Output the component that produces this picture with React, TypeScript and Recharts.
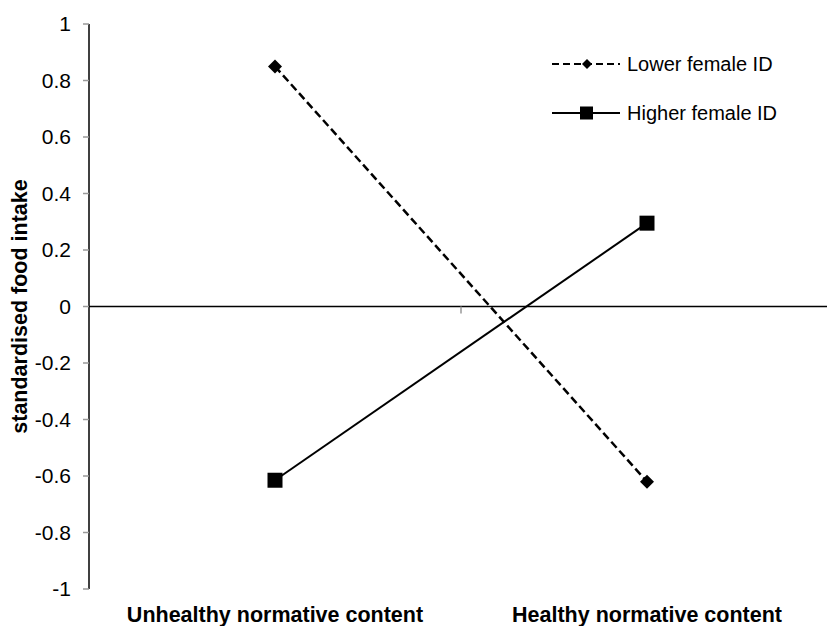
import React from 'react';
import { LineChart, Line, XAxis, YAxis, ReferenceLine } from 'recharts';

const categories = ['Unhealthy normative content', 'Healthy normative content'];
const lowerFemaleID = [0.85, -0.62];
const higherFemaleID = [-0.615, 0.295];
const yTicks = [-1, -0.8, -0.6, -0.4, -0.2, 0, 0.2, 0.4, 0.6, 0.8, 1];
const seriesNames = ['Lower female ID', 'Higher female ID'];
const yTitle = 'standardised food intake';

const data = categories.map((c, i) => ({
  category: c,
  lower: lowerFemaleID[i],
  higher: higherFemaleID[i],
}));

const FONT = '"Liberation Sans", Arial, sans-serif';

const Diamond = (props: any) => {
  const { cx, cy, index } = props;
  if (cx == null || cy == null) return <g key={index} />;
  const r = 7;
  return (
    <path key={index} d={`M${cx},${cy - r}L${cx + r},${cy}L${cx},${cy + r}L${cx - r},${cy}Z`} fill="#000" />
  );
};

const Square = (props: any) => {
  const { cx, cy, index } = props;
  if (cx == null || cy == null) return <g key={index} />;
  const s = 15;
  return <rect key={index} x={cx - s / 2} y={cy - s / 2} width={s} height={s} fill="#000" />;
};

const LegendBox = () => (
  <div style={{ position: 'absolute', left: 552, top: 39.5, width: 270, fontFamily: FONT, fontSize: 20, color: '#000' }}>
    {seriesNames.map((name, i) => {
      const dashed = i === 0;
      return (
        <div key={i} style={{ display: 'flex', alignItems: 'center', height: 49 }}>
          <svg width={68} height={16} style={{ marginRight: 7 }}>
            <line x1={0} y1={8} x2={68} y2={8} stroke="#000" strokeWidth={2} strokeDasharray={dashed ? '7 4' : undefined} />
            {dashed ? (
              <path d="M35,3L40,8L35,13L30,8Z" fill="#000" />
            ) : (
              <rect x={28} y={1.5} width={13} height={13} fill="#000" />
            )}
          </svg>
          <span>{name}</span>
        </div>
      );
    })}
  </div>
);

const MidTick = (props: any) => {
  const vb = props.viewBox || {};
  const x = vb.x + vb.width / 2;
  return <line x1={x} y1={vb.y} x2={x} y2={vb.y + 7} stroke="#999" strokeWidth={1.5} />;
};

const YTitle = (props: any) => {
  const vb = props.viewBox || {};
  const cy = vb.y + vb.height / 2;
  const cx = 20;
  return (
    <text
      x={cx}
      y={cy}
      transform={`rotate(-90, ${cx}, ${cy})`}
      textAnchor="middle"
      dominantBaseline="central"
      fontFamily={FONT}
      fontWeight="bold"
      fontSize={21.5}
      fill="#000"
    >
      {yTitle}
    </text>
  );
};

export default function App() {
  return (
    <div style={{ position: 'absolute', left: 0, top: 0, width: 827, height: 626, overflow: 'hidden', background: '#fff' }}>
      <LineChart width={840} height={626} data={data} margin={{ top: 24, right: 7, left: 0, bottom: 0 }}>
        <XAxis
          dataKey="category"
          scale="band"
          axisLine={false}
          tickLine={false}
          height={37}
          tickMargin={12}
          interval={0}
          tick={{ fontFamily: FONT, fontSize: 21.5, fontWeight: 'bold', fill: '#000' }}
        />
        <YAxis
          domain={[-1, 1]}
          ticks={yTicks}
          width={89}
          interval={0}
          axisLine={{ stroke: '#000', strokeWidth: 1.5 }}
          tickLine={{ stroke: '#999', strokeWidth: 1.5 }}
          tickSize={6}
          tickMargin={12}
          tick={{ fontFamily: FONT, fontSize: 21, fill: '#000' }}
          label={<YTitle />}
        />
        <ReferenceLine y={0} stroke="#000" strokeWidth={1.5} label={<MidTick />} />
        <Line
          name={seriesNames[0]}
          dataKey="lower"
          stroke="#000"
          strokeWidth={2.5}
          strokeDasharray="8 4"
          dot={Diamond}
          activeDot={false}
          isAnimationActive={false}
        />
        <Line
          name={seriesNames[1]}
          dataKey="higher"
          stroke="#000"
          strokeWidth={2}
          dot={Square}
          activeDot={false}
          isAnimationActive={false}
        />
      </LineChart>
      <LegendBox />
    </div>
  );
}
